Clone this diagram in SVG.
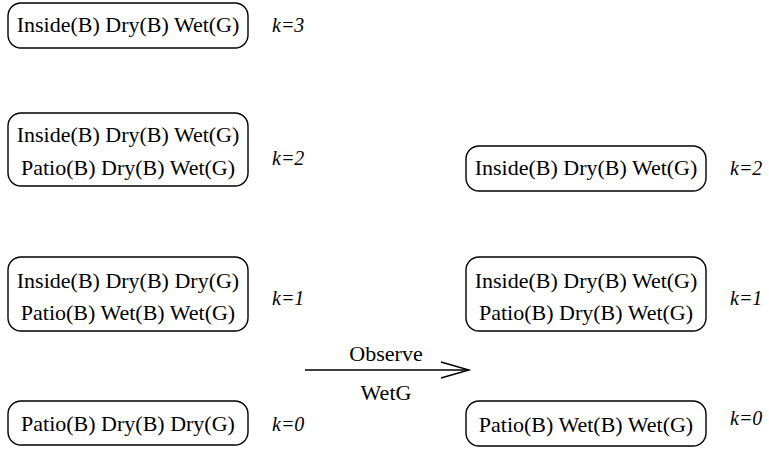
<svg xmlns="http://www.w3.org/2000/svg" width="769" height="451" viewBox="0 0 769 451">
  <style>
    .box { fill: none; stroke: #000; stroke-width: 1.4; }
    .edge { fill: none; stroke: #000; stroke-width: 1.4; }
  </style>
  <rect width="769" height="451" fill="#fff"/>

  <!-- left column: before observation -->
  <g id="left-k3">
    <rect class="box" x="8" y="3" width="240" height="45" rx="13"/>
    <text x="128" y="32" style="font-family: 'Liberation Serif', serif; font-size: 22px; text-anchor: middle;">Inside(B) Dry(B) Wet(G)</text>
    <text x="272" y="32" style="font-family: 'Liberation Serif', serif; font-size: 20px; font-style: italic;">k=3</text>
  </g>
  <g id="left-k2">
    <rect class="box" x="8" y="113" width="240" height="73" rx="13"/>
    <text x="128" y="142" style="font-family: 'Liberation Serif', serif; font-size: 22px; text-anchor: middle;">Inside(B) Dry(B) Wet(G)</text>
    <text x="128" y="175" style="font-family: 'Liberation Serif', serif; font-size: 22px; text-anchor: middle;">Patio(B) Dry(B) Wet(G)</text>
    <text x="272" y="165" style="font-family: 'Liberation Serif', serif; font-size: 20px; font-style: italic;">k=2</text>
  </g>
  <g id="left-k1">
    <rect class="box" x="8" y="257" width="240" height="74" rx="13"/>
    <text x="128" y="288" style="font-family: 'Liberation Serif', serif; font-size: 22px; text-anchor: middle;">Inside(B) Dry(B) Dry(G)</text>
    <text x="128" y="320" style="font-family: 'Liberation Serif', serif; font-size: 22px; text-anchor: middle;">Patio(B) Wet(B) Wet(G)</text>
    <text x="272" y="305" style="font-family: 'Liberation Serif', serif; font-size: 20px; font-style: italic;">k=1</text>
  </g>
  <g id="left-k0">
    <rect class="box" x="8" y="401" width="240" height="44" rx="13"/>
    <text x="128" y="431" style="font-family: 'Liberation Serif', serif; font-size: 22px; text-anchor: middle;">Patio(B) Dry(B) Dry(G)</text>
    <text x="272" y="431" style="font-family: 'Liberation Serif', serif; font-size: 20px; font-style: italic;">k=0</text>
  </g>

  <!-- right column: after observing WetG -->
  <g id="right-k2">
    <rect class="box" x="466" y="146" width="240" height="45" rx="13"/>
    <text x="586" y="175" style="font-family: 'Liberation Serif', serif; font-size: 22px; text-anchor: middle;">Inside(B) Dry(B) Wet(G)</text>
    <text x="730" y="175" style="font-family: 'Liberation Serif', serif; font-size: 20px; font-style: italic;">k=2</text>
  </g>
  <g id="right-k1">
    <rect class="box" x="466" y="257" width="240" height="74" rx="13"/>
    <text x="586" y="288" style="font-family: 'Liberation Serif', serif; font-size: 22px; text-anchor: middle;">Inside(B) Dry(B) Wet(G)</text>
    <text x="586" y="320" style="font-family: 'Liberation Serif', serif; font-size: 22px; text-anchor: middle;">Patio(B) Dry(B) Wet(G)</text>
    <text x="730" y="305" style="font-family: 'Liberation Serif', serif; font-size: 20px; font-style: italic;">k=1</text>
  </g>
  <g id="right-k0">
    <rect class="box" x="466" y="401" width="240" height="45" rx="13"/>
    <text x="586" y="432" style="font-family: 'Liberation Serif', serif; font-size: 22px; text-anchor: middle;">Patio(B) Wet(B) Wet(G)</text>
    <text x="730" y="425" style="font-family: 'Liberation Serif', serif; font-size: 20px; font-style: italic;">k=0</text>
  </g>

  <!-- observation transition -->
  <g id="connectors">
    <line class="edge" x1="305" y1="370" x2="469" y2="370"/>
    <polyline class="edge" points="441,362 469,370 441,378"/>
    <text x="386" y="361" style="font-family: 'Liberation Serif', serif; font-size: 22px; text-anchor: middle;">Observe</text>
    <text x="386" y="400" style="font-family: 'Liberation Serif', serif; font-size: 22px; text-anchor: middle;">WetG</text>
  </g>
</svg>
